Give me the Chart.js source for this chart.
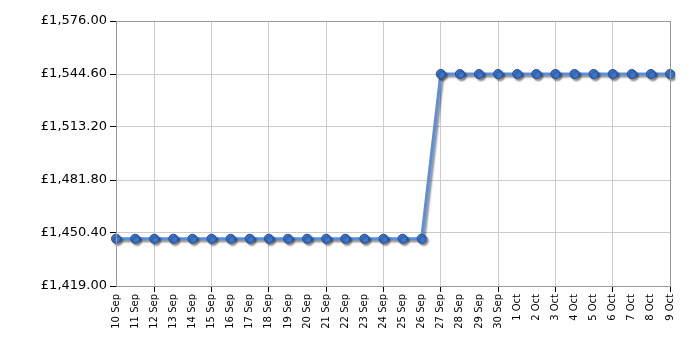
<!DOCTYPE html>
<html>
<head>
<meta charset="utf-8">
<script src="https://cdn.jsdelivr.net/npm/chart.js@4/dist/chart.umd.min.js"></script>
<style>
  html, body { margin: 0; padding: 0; background: #fff; }
  #wrap { width: 700px; height: 350px; }
</style>
</head>
<body>
<div id="wrap"><canvas id="chart"></canvas></div>
<script>
const dates = [
  '10 Sep', '11 Sep', '12 Sep', '13 Sep', '14 Sep', '15 Sep', '16 Sep', '17 Sep',
  '18 Sep', '19 Sep', '20 Sep', '21 Sep', '22 Sep', '23 Sep', '24 Sep', '25 Sep',
  '26 Sep', '27 Sep', '28 Sep', '29 Sep', '30 Sep', '1 Oct', '2 Oct', '3 Oct',
  '4 Oct', '5 Oct', '6 Oct', '7 Oct', '8 Oct', '9 Oct'
];

const prices = [
  1447, 1447, 1447, 1447, 1447, 1447, 1447, 1447, 1447,
  1447, 1447, 1447, 1447, 1447, 1447, 1447, 1447,
  1544.6, 1544.6, 1544.6, 1544.6, 1544.6, 1544.6, 1544.6,
  1544.6, 1544.6, 1544.6, 1544.6, 1544.6, 1544.6
];

const yMin = 1419;
const yMax = 1576;
const yStep = 31.4;

const money = new Intl.NumberFormat('en-GB', { minimumFractionDigits: 2, maximumFractionDigits: 2 });

// box around the plot area
const frame = {
  id: 'frame',
  afterDraw(chart) {
    const { ctx, chartArea: a } = chart;
    ctx.save();
    ctx.strokeStyle = '#999';
    ctx.lineWidth = 1;
    ctx.strokeRect(a.left + 0.5, a.top + 0.5, a.right - a.left, a.bottom - a.top);
    ctx.restore();
  }
};

// soft drop shadow under the line and points
const shadow = {
  id: 'shadow',
  beforeDatasetsDraw(chart) {
    const ctx = chart.ctx;
    ctx.save();
    ctx.shadowColor = 'rgba(0,0,0,0.45)';
    ctx.shadowBlur = 2;
    ctx.shadowOffsetX = 2;
    ctx.shadowOffsetY = 2;
  },
  afterDatasetsDraw(chart) {
    chart.ctx.restore();
  }
};

new Chart(document.getElementById('chart'), {
  type: 'line',
  data: {
    labels: dates,
    datasets: [{
      data: prices,
      borderColor: '#5a8fe0',
      borderWidth: 3,
      tension: 0,
      fill: false,
      pointRadius: 4.5,
      pointBackgroundColor: '#3c76d2',
      pointBorderColor: '#24508f',
      pointBorderWidth: 1
    }]
  },
  options: {
    responsive: true,
    maintainAspectRatio: false,
    animation: false,
    layout: { padding: { top: 21, right: 30, left: 0, bottom: 0 } },
    plugins: { legend: { display: false }, tooltip: { enabled: false } },
    scales: {
      x: {
        offset: false,
        grid: {
          color: (c) => (c.index % 3 === 2 ? '#ccc' : 'rgba(0,0,0,0)'),
          tickColor: (c) => (c.index % 3 === 2 ? '#000' : 'rgba(0,0,0,0)'),
          tickLength: 6
        },
        border: { display: false },
        ticks: {
          autoSkip: false,
          minRotation: 90,
          maxRotation: 90,
          padding: 2,
          color: '#000',
          font: { family: 'DejaVu Sans', size: 10 }
        },
        afterFit: (s) => { s.height = 64; }
      },
      y: {
        min: yMin,
        max: yMax,
        grid: { color: '#ccc', tickColor: '#000', tickLength: 6 },
        border: { display: false },
        ticks: {
          stepSize: yStep,
          padding: 3,
          color: '#000',
          font: { family: 'DejaVu Sans', size: 13 },
          callback: (v) => '£' + money.format(v)
        },
        afterFit: (s) => { s.width = 116; }
      }
    }
  },
  plugins: [shadow, frame]
});
</script>
</body>
</html>
